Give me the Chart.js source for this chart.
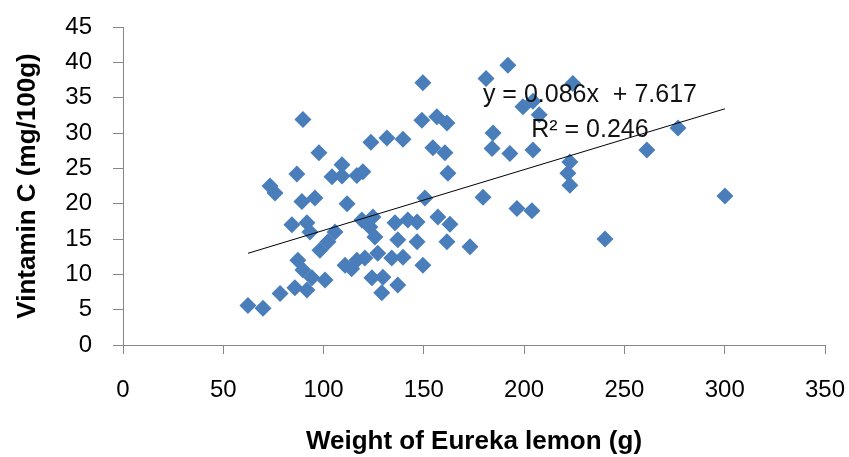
<!DOCTYPE html>
<html>
<head>
<meta charset="utf-8">
<script src="https://cdn.jsdelivr.net/npm/chart.js@4/dist/chart.umd.min.js"></script>
<style>
  html, body { margin: 0; padding: 0; background: #fff; }
  canvas { display: block; }
</style>
</head>
<body>
<canvas id="lemonChart" width="849" height="457"></canvas>
<script>
// weight of Eureka lemon (g) and vitamin C (mg/100g)
const weights = [
  62.3, 69.8, 78.3, 85.7, 91.7, 87.2, 89.7, 94.2, 100.7, 84.2,
  91.7, 93.2, 73.3, 75.8, 89.2, 95.7, 86.7, 97.7, 89.7, 98.2,
  102.2, 105.7, 109.2, 104.2, 109.2, 116.6, 119.6, 111.7, 110.7, 116.6,
  120.6, 114.0, 119.1, 124.6, 123.1, 125.6, 127.0, 134.0, 139.6, 124.1,
  129.6, 129.0, 137.0, 123.6, 131.6, 139.6, 135.6, 142.0, 146.6, 137.0,
  146.6, 149.5, 149.5, 149.0, 156.5, 161.5, 154.5, 160.5, 162.0, 150.5,
  157.0, 163.0, 161.5, 173.0, 179.5, 181.0, 191.9, 184.5, 184.0, 192.9,
  199.4, 204.4, 207.5, 204.4, 196.4, 203.9, 222.8, 221.8, 222.8, 224.3,
  240.3, 261.2, 276.7, 300.1
];
const vitaminC = [
  5.6, 5.2, 7.3, 8.1, 7.8, 12.0, 10.6, 9.5, 9.2, 17.0,
  17.3, 16.0, 22.5, 21.5, 20.3, 20.8, 24.2, 27.2, 31.9, 13.4,
  14.6, 16.0, 25.5, 23.8, 23.9, 24.0, 24.5, 20.0, 11.3, 12.0,
  12.3, 10.8, 17.7, 18.1, 16.7, 15.3, 13.0, 12.3, 12.4, 9.5,
  9.6, 7.4, 8.5, 28.7, 29.3, 29.1, 17.3, 17.7, 17.4, 14.9,
  14.6, 11.3, 37.1, 31.8, 32.3, 31.4, 27.9, 27.2, 24.3, 20.8,
  18.1, 17.1, 14.6, 13.9, 20.9, 37.7, 39.6, 30.0, 27.8, 27.1,
  33.7, 34.5, 32.6, 27.6, 19.3, 19.0, 25.9, 24.3, 22.6, 37.0,
  15.0, 27.6, 30.7, 21.1
];

// linear trendline as printed on the chart
const slope = 0.086;
const intercept = 7.617;
const equationText = ['y = 0.086x  + 7.617', 'R\u00b2 = 0.246'];

const xTitle = 'Weight of Eureka lemon (g)';
const yTitle = 'Vintamin C (mg/100g)';

const points = weights.map((w, i) => ({ x: w, y: vitaminC[i] }));
const xMin = Math.min(...weights);
const xMax = Math.max(...weights);
const trend = [xMin, xMax].map(x => ({ x, y: slope * x + intercept }));

const axisGrey = '#868686';
const tickFont = { family: 'Liberation Sans, Arial, sans-serif', size: 24 };
const titleFont = { family: 'Liberation Sans, Arial, sans-serif', size: 26, weight: 'bold' };

// equation label, placed in data units
const equationLabel = {
  id: 'equationLabel',
  afterDatasetsDraw(chart) {
    const { ctx, scales: { x, y } } = chart;
    ctx.save();
    ctx.fillStyle = '#111';
    ctx.font = '25px "Liberation Sans", Arial, sans-serif';
    ctx.textAlign = 'center';
    ctx.textBaseline = 'alphabetic';
    const cx = x.getPixelForValue(232.8);
    ctx.fillText(equationText[0], cx, y.getPixelForValue(34.37));
    ctx.fillText(equationText[1], cx, y.getPixelForValue(29.42));
    ctx.restore();
  }
};

// let layout padding alone decide where the plot area sits
function dropLabelPadding(s) {
  s.paddingTop = 0;
  s.paddingBottom = 0;
  s.paddingLeft = 0;
  s.paddingRight = 0;
}

new Chart(document.getElementById('lemonChart'), {
  type: 'scatter',
  data: {
    datasets: [
      {
        label: 'Vitamin C',
        data: points,
        pointStyle: 'rectRot',
        pointRadius: 8.5,
        backgroundColor: '#4A7EBB',
        borderWidth: 0,
        order: 2
      },
      {
        type: 'line',
        label: 'Trend',
        data: trend,
        borderColor: '#000',
        borderWidth: 1,
        pointRadius: 0,
        fill: false,
        order: 1
      }
    ]
  },
  options: {
    responsive: false,
    animation: false,
    layout: { padding: { top: 27, right: 24, bottom: 0, left: 0 } },
    plugins: {
      legend: { display: false },
      tooltip: { enabled: false }
    },
    scales: {
      x: {
        type: 'linear',
        min: 0,
        max: 350,
        ticks: { stepSize: 50, font: tickFont, color: '#000', padding: 22, maxRotation: 0 },
        grid: { drawOnChartArea: false, tickLength: 9, color: axisGrey },
        border: { color: axisGrey },
        title: { display: true, text: xTitle, font: titleFont, color: '#000', padding: { top: 0, bottom: 0 } },
        afterFit: s => { s.height = 112; dropLabelPadding(s); }
      },
      y: {
        min: 0,
        max: 45,
        ticks: { stepSize: 5, font: tickFont, color: '#000', padding: 21 },
        grid: { drawOnChartArea: false, tickLength: 10, color: axisGrey },
        border: { color: axisGrey },
        title: { display: true, text: yTitle, font: titleFont, color: '#000', padding: { top: 12, bottom: 0 } },
        afterFit: s => { s.width = 123; dropLabelPadding(s); }
      }
    }
  },
  plugins: [equationLabel]
});
</script>
</body>
</html>
